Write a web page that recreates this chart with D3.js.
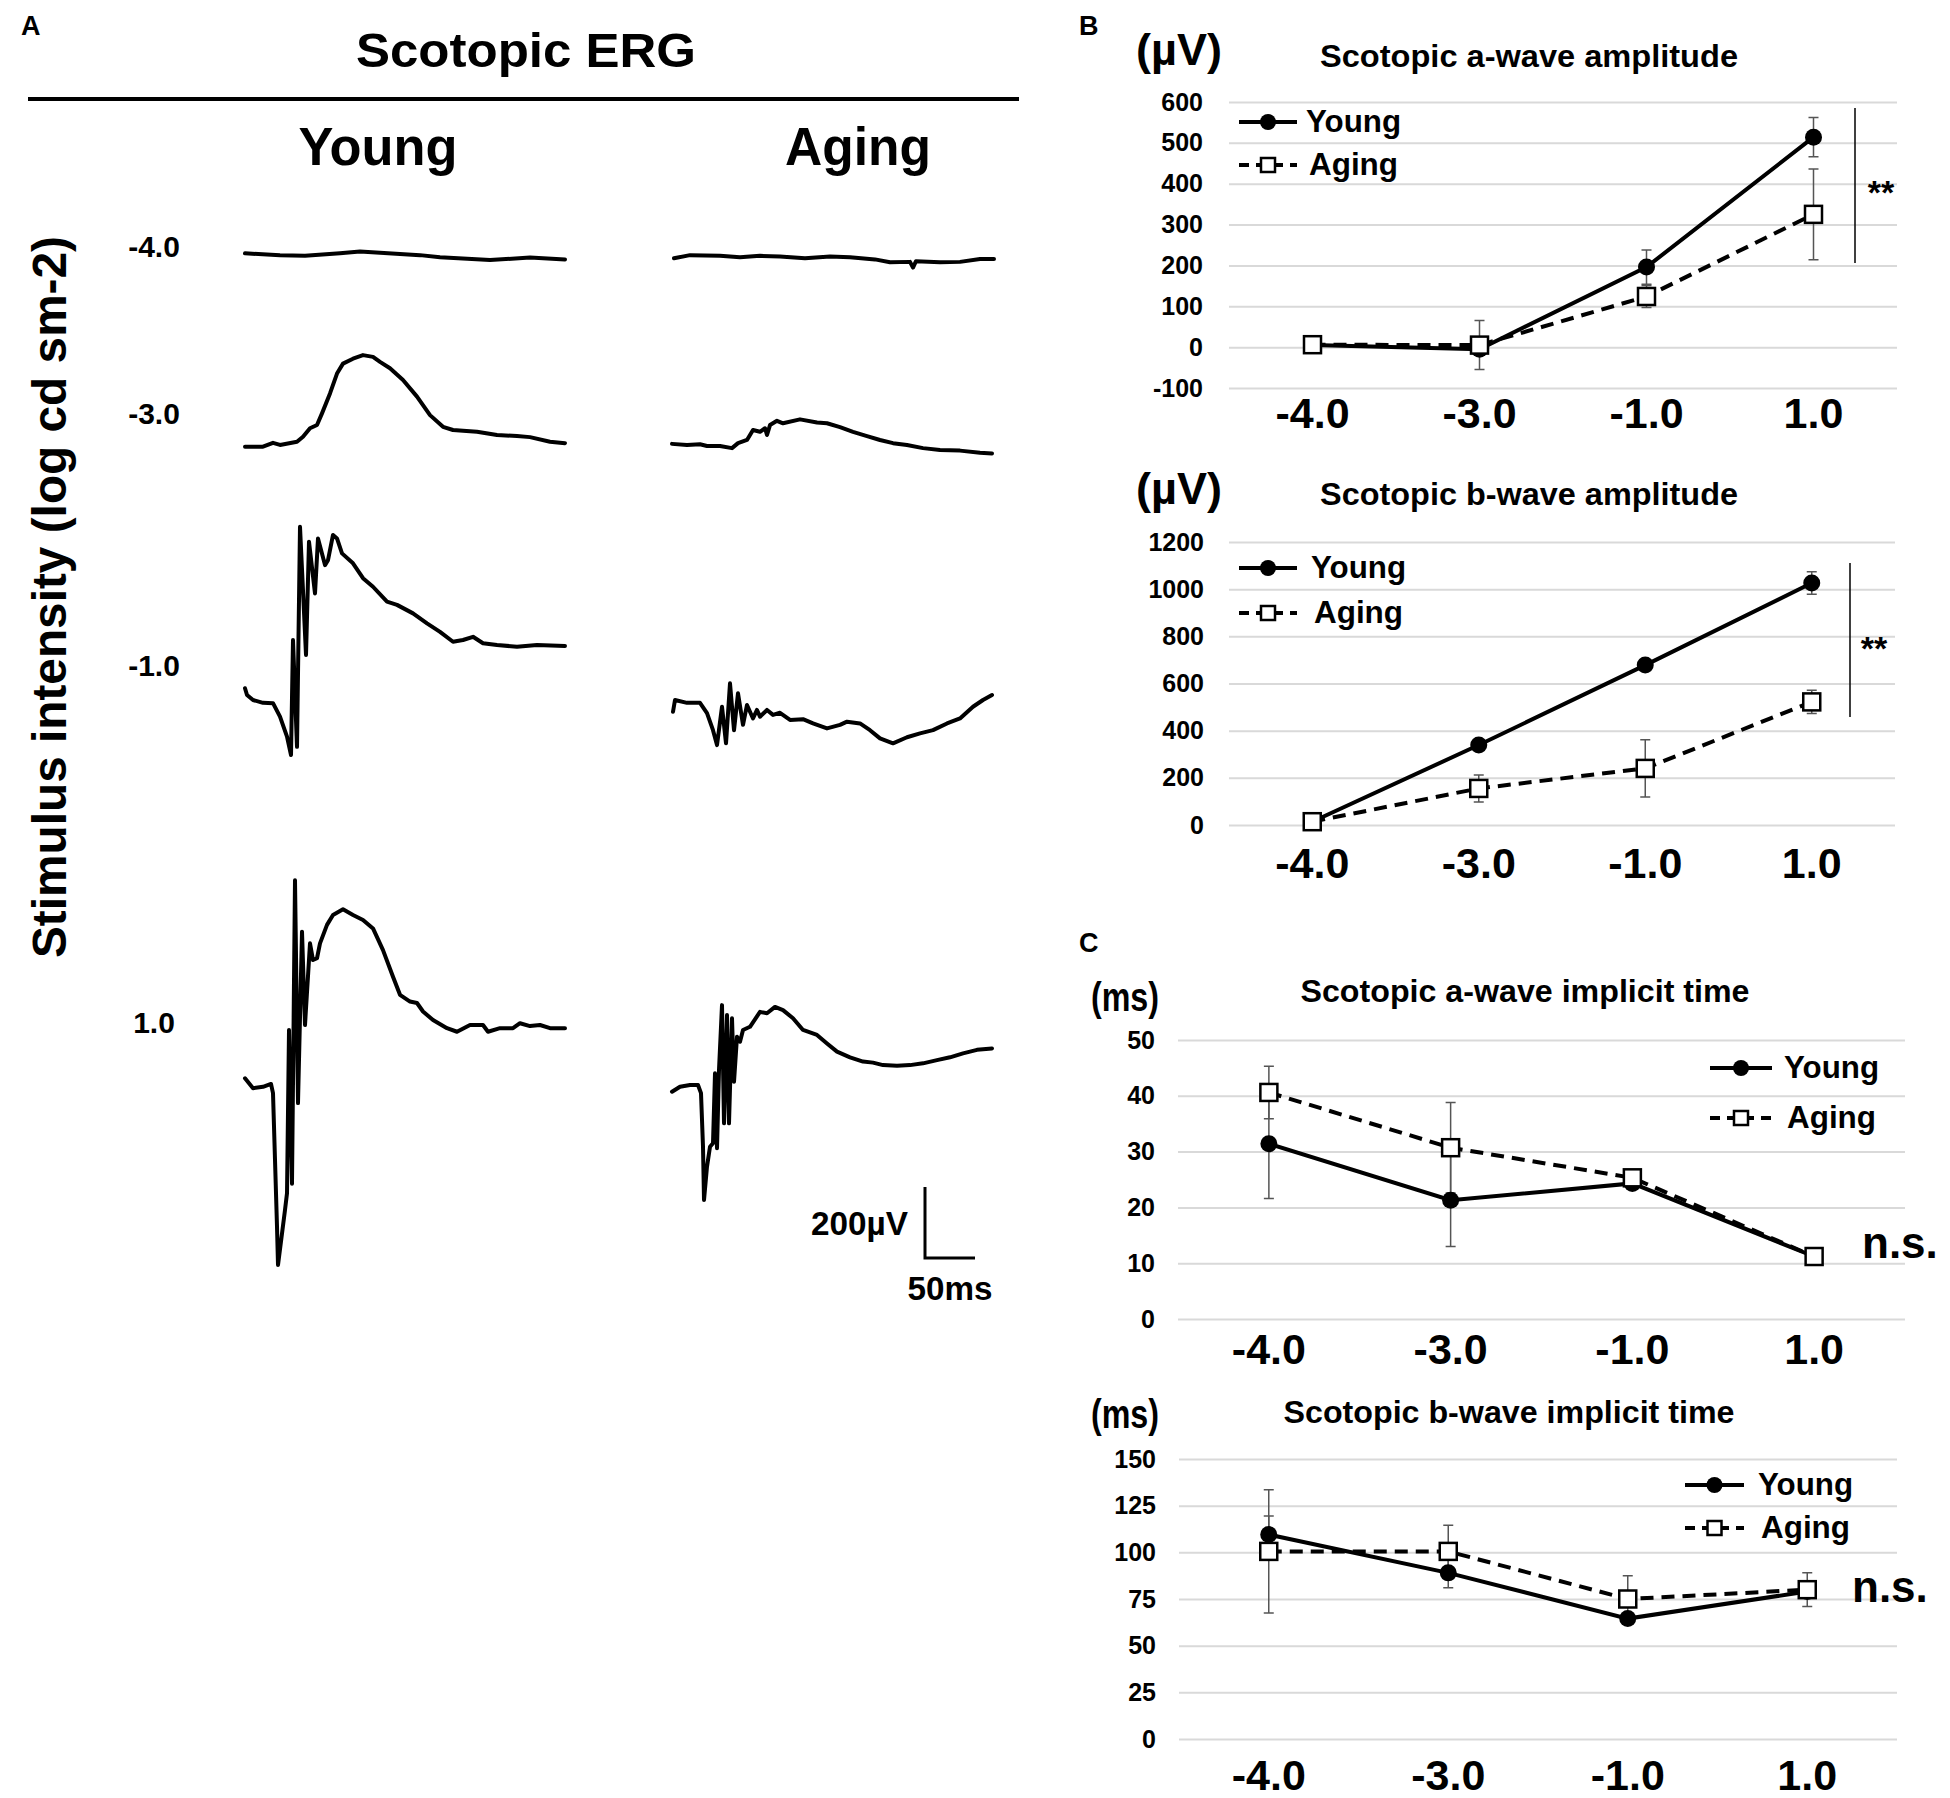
<!DOCTYPE html>
<html>
<head>
<meta charset="utf-8">
<script src="https://cdn.jsdelivr.net/npm/d3@7"></script>
<style>
body{margin:0;background:#fff}
text{font-family:"Liberation Sans",Arial,sans-serif;font-weight:bold;fill:#000}
</style>
</head>
<body>
<svg id="fig" width="1950" height="1798"></svg>
<script>
var intensities = ["-4.0", "-3.0", "-1.0", "1.0"];

// B: amplitudes (uV), mean and error
var aAmpYoung = [5, -5, 196, 514];
var aAmpYoungErr = [6, 8, 42, 48];
var aAmpAging = [6, 5, 124, 325];
var aAmpAgingErr = [6, 60, 27, 111];
var bAmpYoung = [14, 339, 678, 1026];
var bAmpYoungErr = [5, 10, 12, 48];
var bAmpAging = [14, 155, 240, 522];
var bAmpAgingErr = [5, 57, 121, 49];

// C: implicit times (ms)
var aTimeYoung = [31.4, 21.3, 24.3, 11.2];
var aTimeYoungErr = [9.8, 8.3, 0.5, 0.3];
var aTimeAging = [40.6, 30.7, 25.3, 11.2];
var aTimeAgingErr = [4.7, 8.1, 0.5, 0.3];
var bTimeYoung = [109.5, 89, 64.5, 79];
var bTimeYoungErr = [10, 8, 2, 2];
var bTimeAging = [100.5, 100.5, 75, 80];
var bTimeAgingErr = [33, 14, 12.5, 9];

var aAmpTicks = [-100, 0, 100, 200, 300, 400, 500, 600];
var bAmpTicks = [0, 200, 400, 600, 800, 1000, 1200];
var aTimeTicks = [0, 10, 20, 30, 40, 50];
var bTimeTicks = [0, 25, 50, 75, 100, 125, 150];

// A: ERG traces, [time ms, amplitude uV]
var youngM4 = [[0,-1],[35,-6],[60,-8],[95,-1],[115,4],[135,1],[175,-6],[195,-12],[245,-20],[285,-13],[320,-18]];
var agingM4 = [[2,-15],[18,-6],[48,-8],[68,-12],[88,-8],[108,-10],[133,-15],[158,-10],[178,-12],[203,-18],[218,-26],[238,-25],[241,-41],[244,-23],[268,-26],[288,-25],[308,-17],[322,-17]];
var youngM3 = [[0,-2],[18,-2],[28,9],[35,3],[52,12],[58,26],[65,50],[72,59],[77,92],[85,148],[92,204],[98,232],[108,246],[118,256],[128,251],[135,237],[145,219],[158,186],[172,139],[185,87],[198,54],[208,45],[218,43],[232,40],[252,31],[272,28],[285,25],[305,12],[320,8]];
var agingM3 = [[0,6],[15,3],[28,5],[35,0],[48,0],[60,-6],[66,8],[75,17],[81,45],[88,40],[93,50],[95,31],[98,59],[105,71],[111,64],[128,75],[145,66],[155,64],[168,53],[181,40],[195,28],[208,17],[221,8],[235,3],[251,-6],[268,-11],[288,-13],[308,-19],[320,-21]];
var youngM1 = [[0,33],[2,14],[8,0],[18,-8],[28,-9],[35,-47],[42,-103],[46,-155],[48,169],[52,-132],[55,488],[61,127],[64,446],[70,300],[73,455],[80,380],[83,394],[88,465],[92,455],[97,413],[108,385],[118,343],[128,319],[142,277],[152,268],[168,244],[182,216],[195,192],[208,164],[218,169],[228,178],[238,160],[252,155],[272,150],[292,155],[320,152]];
var agingM1 = [[1,-33],[3,0],[15,-8],[28,-8],[35,-37],[41,-85],[45,-127],[50,-19],[54,-122],[58,47],[62,-85],[66,19],[71,-70],[75,-14],[81,-52],[85,-28],[88,-47],[95,-28],[101,-42],[108,-36],[118,-56],[131,-54],[141,-66],[155,-80],[168,-70],[175,-61],[188,-66],[198,-85],[208,-108],[221,-122],[235,-105],[248,-94],[261,-85],[275,-66],[288,-52],[301,-19],[311,0],[320,14]];
var youngP1 = [[0,19],[8,-9],[18,-5],[26,3],[28,-23],[30,-211],[32,-399],[33,-507],[37,-418],[40,-352],[42,-305],[44,155],[47,-278],[50,577],[53,-51],[57,432],[60,169],[65,399],[68,352],[72,357],[75,399],[82,451],[88,479],[98,495],[108,479],[118,465],[128,441],[138,380],[148,305],[155,254],[165,235],[172,231],[178,207],[188,183],[202,160],[212,150],[225,169],[238,169],[243,150],[255,160],[268,160],[275,174],[285,166],[295,169],[305,160],[320,160]];
var agingP1 = [[0,-19],[8,-5],[18,0],[26,0],[29,-23],[31,-174],[32,-324],[35,-230],[38,-174],[41,-164],[43,33],[45,-178],[47,42],[50,225],[52,-108],[55,197],[57,-108],[60,188],[62,9],[65,136],[68,122],[71,155],[78,164],[88,206],[95,202],[103,220],[111,211],[121,188],[131,155],[145,141],[155,117],[165,94],[178,78],[191,66],[201,63],[211,56],[225,54],[238,56],[251,61],[265,70],[278,78],[291,89],[305,99],[320,103]];

var youngTraces = [youngM4, youngM3, youngM1, youngP1];
var agingTraces = [agingM4, agingM3, agingM1, agingP1];

var svg = d3.select("#fig");
svg.append("rect").attr("width", 1950).attr("height", 1798).attr("fill", "#fff");

function label(x, y, txt, size, anchor, len) {
  var t = svg.append("text").attr("x", x).attr("y", y).attr("font-size", size)
    .attr("text-anchor", anchor || "start").text(txt);
  if (len) t.attr("textLength", len).attr("lengthAdjust", "spacingAndGlyphs");
  return t;
}

// ---------- panel A ----------
label(21, 35, "A", 27);
label(526, 67, "Scotopic ERG", 49, "middle", 340);
svg.append("line").attr("x1", 28).attr("x2", 1019).attr("y1", 99).attr("y2", 99)
  .attr("stroke", "#000").attr("stroke-width", 4);
label(378, 165, "Young", 54, "middle", 159);
label(858, 165, "Aging", 54, "middle", 146);
svg.append("text").attr("transform", "translate(66,597) rotate(-90)")
  .attr("font-size", 48).attr("text-anchor", "middle")
  .attr("textLength", 722).attr("lengthAdjust", "spacingAndGlyphs")
  .text("Stimulus intensity (log cd sm-2)");

var rowBase = [253, 446, 700, 1085];
var rowLabelY = [257, 424, 676, 1033];
var colStart = [245, 672];
var uv = d3.scaleLinear().domain([0, 200]).range([0, 71]);
var ms = d3.scaleLinear().domain([0, 50]).range([0, 50]);

intensities.forEach(function (lab, i) {
  label(154, rowLabelY[i], lab, 30, "middle");
});

[youngTraces, agingTraces].forEach(function (traces, j) {
  traces.forEach(function (tr, i) {
    var line = d3.line()
      .x(function (d) { return colStart[j] + ms(d[0]); })
      .y(function (d) { return rowBase[i] - uv(d[1]); });
    svg.append("path").attr("d", line(tr)).attr("fill", "none")
      .attr("stroke", "#000").attr("stroke-width", 4)
      .attr("stroke-linejoin", "round").attr("stroke-linecap", "round");
  });
});

// scale bar
var sbX = 925, sbY = 1258;
svg.append("path")
  .attr("d", "M" + sbX + "," + (sbY - uv(200)) + "V" + sbY + "H" + (sbX + ms(50)))
  .attr("fill", "none").attr("stroke", "#000").attr("stroke-width", 3);
label(908, 1235, "200\u00b5V", 34, "end", 97);
label(950, 1300, "50ms", 34, "middle", 85);

// ---------- panels B and C ----------
label(1079, 35, "B", 27);
label(1079, 952, "C", 27);

function dotChart(c) {
  var g = svg.append("g");
  var x = d3.scaleBand().domain(intensities).range([c.left, c.right]);
  var y = d3.scaleLinear().domain(c.domain).range([c.bottom, c.top]);
  var cx = function (d) { return x(d) + x.bandwidth() / 2; };

  g.append("g").attr("transform", "translate(" + c.left + ",0)")
    .call(d3.axisLeft(y).tickValues(c.ticks).tickSize(-(c.right - c.left))
      .tickPadding(c.pad).tickFormat(String))
    .call(function (a) {
      a.select(".domain").remove();
      a.selectAll("line").attr("stroke", "#d9d9d9").attr("stroke-width", 2);
      a.selectAll("text").attr("font-size", 25).attr("fill", "#000")
        .attr("font-family", "'Liberation Sans',Arial,sans-serif").attr("font-weight", "bold");
    });

  g.append("g").attr("transform", "translate(0," + c.xBase + ")")
    .call(d3.axisBottom(x).tickSize(0).tickPadding(0))
    .call(function (a) {
      a.select(".domain").remove();
      a.selectAll("text").attr("y", 0).attr("dy", 0).attr("font-size", 43).attr("fill", "#000")
        .attr("font-family", "'Liberation Sans',Arial,sans-serif").attr("font-weight", "bold");
    });

  var series = [
    { v: c.young, e: c.youngErr, dash: null, mk: "circle" },
    { v: c.aging, e: c.agingErr, dash: "13,8", mk: "square" }
  ];

  series.forEach(function (s) {
    s.v.forEach(function (d, i) {
      var px = cx(intensities[i]);
      var y1 = y(d - s.e[i]), y2 = y(d + s.e[i]);
      g.append("path")
        .attr("d", "M" + px + "," + y1 + "V" + y2 + "M" + (px - 5) + "," + y1 + "h10M" + (px - 5) + "," + y2 + "h10")
        .attr("stroke", "#555").attr("stroke-width", 1.5).attr("fill", "none");
    });
  });

  series.forEach(function (s) {
    var line = d3.line().x(function (d, i) { return cx(intensities[i]); }).y(function (d) { return y(d); });
    g.append("path").attr("d", line(s.v)).attr("fill", "none").attr("stroke", "#000")
      .attr("stroke-width", 4).attr("stroke-dasharray", s.dash);
  });

  function marker(sel, kind, px, py) {
    if (kind === "circle") {
      sel.append("circle").attr("cx", px).attr("cy", py).attr("r", 8.5).attr("fill", "#000");
    } else {
      sel.append("rect").attr("x", px - 8.5).attr("y", py - 8.5).attr("width", 17).attr("height", 17)
        .attr("fill", "#fff").attr("stroke", "#000").attr("stroke-width", 2.5);
    }
  }

  series.forEach(function (s) {
    s.v.forEach(function (d, i) { marker(g, s.mk, cx(intensities[i]), y(d)); });
  });

  // legend
  var L = c.legend;
  [["Young", L.yYoung, null, "circle"], ["Aging", L.yAging, "10,7", "square"]].forEach(function (r) {
    g.append("line").attr("x1", L.x1).attr("x2", L.x2).attr("y1", r[1]).attr("y2", r[1])
      .attr("stroke", "#000").attr("stroke-width", 4).attr("stroke-dasharray", r[2]);
    if (r[3] === "circle") {
      g.append("circle").attr("cx", (L.x1 + L.x2) / 2).attr("cy", r[1]).attr("r", 8).attr("fill", "#000");
    } else {
      g.append("rect").attr("x", (L.x1 + L.x2) / 2 - 7).attr("y", r[1] - 7).attr("width", 14).attr("height", 14)
        .attr("fill", "#fff").attr("stroke", "#000").attr("stroke-width", 2.5);
    }
    label(r[0] === "Young" ? L.tx : L.tx + 3, r[1] + 10, r[0], 31, "start", r[0] === "Young" ? 95 : 89);
  });

  label(c.unitX, c.unitY, c.unit, c.unitSize, "start", c.unitLen);
  label(c.titleX, c.titleY, c.title, 31, "middle", c.titleLen);

  if (c.sig) {
    g.append("line").attr("x1", c.sig.x).attr("x2", c.sig.x).attr("y1", c.sig.y1).attr("y2", c.sig.y2)
      .attr("stroke", "#000").attr("stroke-width", 1.5);
  }
  label(c.markX, c.markY, c.mark, c.markSize, c.sig ? "middle" : "start");
}

dotChart({
  left: 1229, right: 1897, top: 102, bottom: 388, domain: [-100, 600], ticks: aAmpTicks, pad: 26,
  xBase: 428, young: aAmpYoung, youngErr: aAmpYoungErr, aging: aAmpAging, agingErr: aAmpAgingErr,
  legend: { x1: 1239, x2: 1297, yYoung: 122, yAging: 165, tx: 1306 },
  unit: "(\u00b5V)", unitX: 1136, unitY: 65, unitSize: 44, unitLen: 86,
  title: "Scotopic a-wave amplitude", titleX: 1529, titleY: 67, titleLen: 418,
  sig: { x: 1855, y1: 108, y2: 263 }, mark: "**", markX: 1881, markY: 204, markSize: 34
});

dotChart({
  left: 1229, right: 1895, top: 542, bottom: 825, domain: [0, 1200], ticks: bAmpTicks, pad: 25,
  xBase: 878, young: bAmpYoung, youngErr: bAmpYoungErr, aging: bAmpAging, agingErr: bAmpAgingErr,
  legend: { x1: 1239, x2: 1297, yYoung: 568, yAging: 613, tx: 1311 },
  unit: "(\u00b5V)", unitX: 1136, unitY: 504, unitSize: 44, unitLen: 86,
  title: "Scotopic b-wave amplitude", titleX: 1529, titleY: 505, titleLen: 418,
  sig: { x: 1850, y1: 563, y2: 717 }, mark: "**", markX: 1874, markY: 660, markSize: 34
});

dotChart({
  left: 1178, right: 1905, top: 1040, bottom: 1319, domain: [0, 50], ticks: aTimeTicks, pad: 23,
  xBase: 1364, young: aTimeYoung, youngErr: aTimeYoungErr, aging: aTimeAging, agingErr: aTimeAgingErr,
  legend: { x1: 1710, x2: 1772, yYoung: 1068, yAging: 1118, tx: 1784 },
  unit: "(ms)", unitX: 1091, unitY: 1011, unitSize: 40, unitLen: 68,
  title: "Scotopic a-wave implicit time", titleX: 1525, titleY: 1002, titleLen: 449,
  sig: null, mark: "n.s.", markX: 1862, markY: 1258, markSize: 44
});

dotChart({
  left: 1179, right: 1897, top: 1459, bottom: 1739, domain: [0, 150], ticks: bTimeTicks, pad: 23,
  xBase: 1790, young: bTimeYoung, youngErr: bTimeYoungErr, aging: bTimeAging, agingErr: bTimeAgingErr,
  legend: { x1: 1685, x2: 1744, yYoung: 1485, yAging: 1528, tx: 1758 },
  unit: "(ms)", unitX: 1091, unitY: 1428, unitSize: 40, unitLen: 68,
  title: "Scotopic b-wave implicit time", titleX: 1509, titleY: 1423, titleLen: 451,
  sig: null, mark: "n.s.", markX: 1852, markY: 1602, markSize: 44
});
</script>
</body>
</html>
